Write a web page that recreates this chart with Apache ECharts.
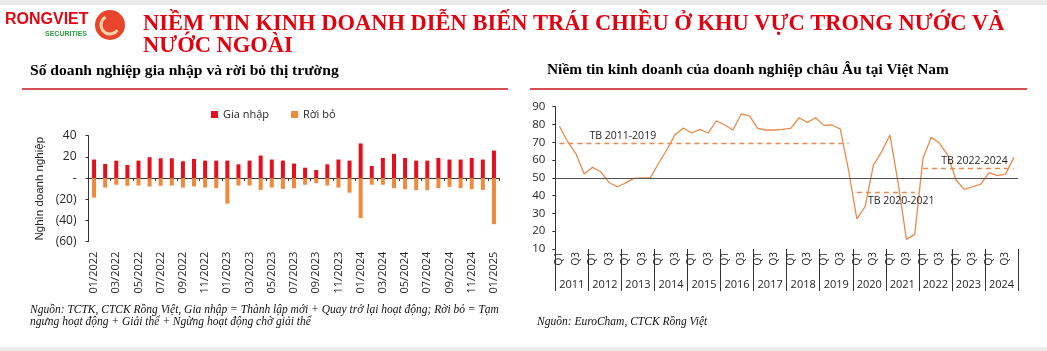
<!DOCTYPE html>
<html>
<head>
<meta charset="utf-8" />
<title>Niềm tin kinh doanh diễn biến trái chiều</title>
<script src="https://cdn.jsdelivr.net/npm/echarts@6/dist/echarts.min.js"></script>
<style>
  html, body { margin: 0; padding: 0; background: #fff; }
  #main { width: 1047px; height: 351px; }
</style>
</head>
<body>
<div id="main"></div>
<script>
// bieu do trai: so doanh nghiep gia nhap / roi bo (nghin)
var months = ['01/2022','02/2022','03/2022','04/2022','05/2022','06/2022','07/2022','08/2022','09/2022','10/2022','11/2022','12/2022',
  '01/2023','02/2023','03/2023','04/2023','05/2023','06/2023','07/2023','08/2023','09/2023','10/2023','11/2023','12/2023',
  '01/2024','02/2024','03/2024','04/2024','05/2024','06/2024','07/2024','08/2024','09/2024','10/2024','11/2024','12/2024','01/2025'];
var giaNhap = [17.5, 13.3, 16.5, 12.4, 16.5, 19.7, 18.7, 18.7, 15.9, 18.1, 16.5, 16.5,
  16.5, 13, 16.5, 21.3, 17.5, 16.5, 13.7, 9.8, 7.6, 13, 17.5, 16.5,
  32.7, 11.4, 19, 22.9, 19, 16.5, 16.5, 19, 17.5, 17.5, 19, 17.5, 26];
var roiBo = [-18.4, -8.9, -6.3, -7.3, -7, -7.9, -7.3, -7, -8.9, -7.9, -8.9, -9.5,
  -24.1, -7, -7, -11.1, -8.9, -10.2, -9.5, -6.3, -4.8, -7, -8.9, -13.7,
  -37.8, -6.3, -6.3, -9.5, -10.5, -11.4, -11.4, -9.5, -8.3, -9.5, -10.5, -11.1, -43.5];

// bieu do phai: niem tin kinh doanh (BCI) theo quy
var years = ['2011','2012','2013','2014','2015','2016','2017','2018','2019','2020','2021','2022','2023','2024'];
var quarterNames = ['Q1','Q2','Q3','Q4'];
var bci = [79, 70.3, 63.5, 52.2, 55.9, 53.4, 47.4, 45, 47, 49.7, 50, 50,
  58.2, 65.8, 74.3, 78, 75.2, 77.3, 75.2, 82.1, 79.7, 76.9, 85.9, 84.9,
  77.8, 76.9, 76.9, 77.3, 77.8, 83.8, 81.2, 83.8, 79.5, 79.7, 77.4, 54,
  26.9, 33.8, 57.2, 64.7, 74.1, 47, 15.4, 18.2, 61, 72.8, 69.4, 62.8,
  48.8, 43.5, 45, 46.5, 52.9, 51.2, 52.1, 61.5];
var avgLines = [
  { name: 'TB 2011-2019', from: '2011', to: '2019', value: 69.5, pos: 'insideStartTop', dist: [30, 2] },
  { name: 'TB 2020-2021', from: '2020', to: '2021', value: 42, pos: 'insideStartBottom', dist: [11, 3] },
  { name: 'TB 2022-2024', from: '2022', to: '2024', value: 55.5, pos: 'insideEndTop', dist: [6, 2] }
];

var quarters = [];
years.forEach(function (y) {
  quarterNames.forEach(function (q) { quarters.push(y + ' ' + q); });
});

var RED = '#e5101f';
var ORANGE = '#ee8a3c';
var LINE_OR = '#ea8a4c';
var TXT = '#262626';
var sans = '"Open Sans", "Noto Sans", sans-serif';
var serif = '"Liberation Serif", "DejaVu Serif", serif';

var avgMarks = avgLines.map(function (a) {
  return [
    { coord: [a.from + ' Q1', a.value], name: a.name,
      label: { show: true, formatter: a.name, position: a.pos, color: TXT, fontSize: 10.5, fontFamily: sans, distance: a.dist } },
    { coord: [a.to + ' Q4', a.value] }
  ];
});

var myChart = echarts.init(document.getElementById('main'));

var option = {
  animation: false,
  backgroundColor: '#fff',
  textStyle: { fontFamily: sans },
  graphic: [
    { type: 'rect', shape: { x: 0, y: 0, width: 1047, height: 5 }, style: { fill: '#ebebeb' } },
    { type: 'rect', shape: { x: 0, y: 347, width: 1047, height: 4 }, style: { fill: '#ececec' } },
    // logo
    { type: 'text', style: { text: 'RONGVIET', x: 5, y: 12, fill: '#e30613', fontSize: 16, fontWeight: 'bold', fontFamily: '"Liberation Sans Narrow", "Liberation Sans", sans-serif' } },
    { type: 'text', style: { text: 'SECURITIES', x: 45, y: 31, fill: '#2e9c3f', fontSize: 7, fontWeight: 'bold', fontFamily: '"Liberation Sans", sans-serif' } },
    { type: 'circle', shape: { cx: 110, cy: 25, r: 15 }, style: { fill: '#e8452c' } },
    { type: 'arc', shape: { cx: 110, cy: 25, r: 9, startAngle: 0.6, endAngle: 4.2 }, style: { stroke: '#fbd3a8', lineWidth: 3, fill: null } },
    // tieu de chinh
    { type: 'text', style: { text: 'NIỀM TIN KINH DOANH DIỄN BIẾN TRÁI CHIỀU Ở KHU VỰC TRONG NƯỚC VÀ', x: 143, y: 13, fill: '#e3000f', fontSize: 22.5, fontWeight: 'bold', fontFamily: serif } },
    { type: 'text', style: { text: 'NƯỚC NGOÀI', x: 143, y: 35, fill: '#e3000f', fontSize: 22.5, fontWeight: 'bold', fontFamily: serif } },
    // tieu de bieu do
    { type: 'text', style: { text: 'Số doanh nghiệp gia nhập và rời bỏ thị trường', x: 30, y: 63, fill: '#000', fontSize: 15.6, fontWeight: 'bold', fontFamily: serif } },
    { type: 'text', style: { text: 'Niềm tin kinh doanh của doanh nghiệp châu Âu tại Việt Nam', x: 547, y: 63, fill: '#000', fontSize: 15.4, fontWeight: 'bold', fontFamily: serif } },
    { type: 'line', shape: { x1: 22, y1: 89, x2: 508, y2: 89 }, style: { stroke: '#c4161c', lineWidth: 1.5 } },
    { type: 'line', shape: { x1: 530, y1: 89, x2: 1027, y2: 89 }, style: { stroke: '#c4161c', lineWidth: 1.5 } },
    // nguon
    { type: 'text', style: { text: 'Nguồn: TCTK, CTCK Rồng Việt, Gia nhập = Thành lập mới + Quay trở lại hoạt động; Rời bỏ = Tạm', x: 30, y: 304, fill: '#111', fontSize: 11.5, fontStyle: 'italic', fontFamily: serif } },
    { type: 'text', style: { text: 'ngưng hoạt động + Giải thể + Ngừng hoạt động chờ giải thể', x: 30, y: 316, fill: '#111', fontSize: 11.5, fontStyle: 'italic', fontFamily: serif } },
    { type: 'text', style: { text: 'Nguồn: EuroCham, CTCK Rồng Việt', x: 537, y: 316, fill: '#111', fontSize: 11.5, fontStyle: 'italic', fontFamily: serif } }
  ],
  legend: {
    left: 206, top: 104,
    itemWidth: 7, itemHeight: 7, itemGap: 22,
    icon: 'rect',
    textStyle: { fontSize: 11, color: TXT, fontFamily: sans },
    data: ['Gia nhập', 'Rời bỏ']
  },
  grid: [
    { left: 88.5, right: 547.5, top: 135.7, bottom: 109.3 },
    { left: 555.3, right: 29, top: 106.7, bottom: 102 }
  ],
  xAxis: [
    { // truc tai 0
      type: 'category', gridIndex: 0, data: months,
      axisLine: { onZero: true, lineStyle: { color: '#333', width: 1 } },
      axisTick: { show: true, interval: 1, length: 3, lineStyle: { color: '#333' } },
      axisLabel: { show: false }
    },
    { // nhan thang o duoi
      type: 'category', gridIndex: 0, data: months, position: 'bottom',
      axisLine: { show: false, onZero: false }, axisTick: { show: false },
      axisLabel: { interval: 1, rotate: 90, margin: 10, fontSize: 11, color: TXT, fontFamily: sans }
    },
    { // quy
      type: 'category', gridIndex: 1, data: quarters,
      axisLine: { show: true, onZero: false, lineStyle: { color: 'rgba(0,0,0,0)' } },
      axisTick: { show: true, interval: 3, length: 42, lineStyle: { color: '#333' } },
      axisLabel: { interval: 1, rotate: 90, margin: 3, fontSize: 10, color: TXT, fontFamily: sans,
        formatter: function (v) { return v.split(' ')[1]; } }
    },
    { // nam
      type: 'category', gridIndex: 1, data: years, position: 'bottom', offset: 22,
      axisLine: { show: false, onZero: false }, axisTick: { show: false },
      axisLabel: { interval: 0, margin: 8, fontSize: 11, color: TXT, fontFamily: sans }
    }
  ],
  yAxis: [
    {
      type: 'value', gridIndex: 0, min: -60, max: 40, interval: 20,
      name: 'Nghìn doanh nghiệp', nameLocation: 'middle', nameGap: 43, nameRotate: 90,
      nameTextStyle: { fontSize: 11.5, color: TXT, fontFamily: '"Liberation Sans", sans-serif' },
      axisLine: { show: true, lineStyle: { color: '#333' } },
      axisTick: { show: true, length: 3, lineStyle: { color: '#333' } },
      splitLine: { show: false },
      axisLabel: { margin: 12, fontSize: 12, color: TXT, fontFamily: sans,
        formatter: function (v) { return v > 0 ? v : (v === 0 ? '-' : '(' + (-v) + ')'); } }
    },
    {
      type: 'value', gridIndex: 1, min: 10, max: 90, interval: 10,
      axisLine: { show: true, lineStyle: { color: '#333' } },
      axisTick: { show: true, length: 3, lineStyle: { color: '#333' } },
      splitLine: { show: false },
      axisLabel: { margin: 10, fontSize: 11.5, color: TXT, fontFamily: sans }
    }
  ],
  series: [
    { name: 'Gia nhập', type: 'bar', stack: 'dn', xAxisIndex: 0, yAxisIndex: 0, barWidth: 4,
      itemStyle: { color: RED }, data: giaNhap },
    { name: 'Rời bỏ', type: 'bar', stack: 'dn', xAxisIndex: 0, yAxisIndex: 0, barWidth: 4,
      itemStyle: { color: ORANGE }, data: roiBo },
    { name: 'BCI', type: 'line', xAxisIndex: 2, yAxisIndex: 1, data: bci,
      symbol: 'none', lineStyle: { color: LINE_OR, width: 1.3 },
      markLine: {
        silent: true, symbol: 'none',
        data: [
          { yAxis: 50, lineStyle: { color: '#555', type: 'solid', width: 1.2 }, label: { show: false } }
        ].concat(avgMarks),
        lineStyle: { color: '#ea8a4c', type: [5, 4], width: 1.3 }
      }
    }
  ]
};

myChart.setOption(option);
</script>
</body>
</html>
